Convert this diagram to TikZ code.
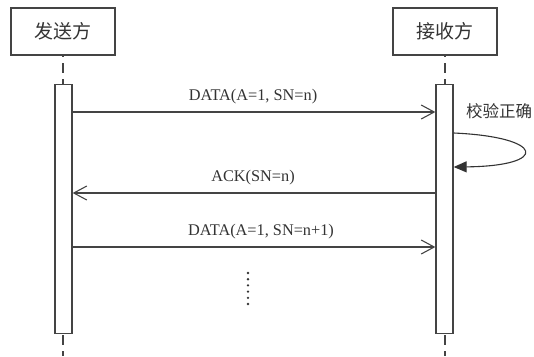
\documentclass[tikz,border=0pt]{standalone}
\usepackage{fontspec}
\setmainfont{Liberation Serif}
\newfontfamily\cjk{Noto Sans CJK SC}
\usetikzlibrary{arrows.meta}
\definecolor{ink}{HTML}{444444}
\definecolor{txt}{HTML}{333333}
\tikzset{
  actor/.style={draw=ink, line width=1.3pt, minimum width=104pt, minimum height=47pt,
    inner sep=0pt, font=\cjk\fontsize{19}{22}\selectfont, text=txt},
  bar/.style={draw=ink, line width=1.3pt, fill=white, minimum width=17pt, minimum height=249pt,
    inner sep=0pt, anchor=north},
  life/.style={draw=ink, line width=1.3pt, dash pattern=on 10pt off 6pt},
  msg/.style={draw=ink, line width=1.2pt, -{Straight Barb[length=13pt,width=14pt,line width=1.1pt]}},
  selfmsg/.style={draw=txt, line width=1.1pt, -{Triangle[length=13pt,width=11pt]}},
  lbl/.style={font=\fontsize{16.3}{19}\selectfont, text=txt, inner sep=0pt}
}
\begin{document}
\begin{tikzpicture}[x=1pt,y=-1pt]
\useasboundingbox (0,0) rectangle (534,356);

% participants
\node[actor] (snd) at (63,31.5) {发送方};
\node[actor] (rcv) at (445,31.5) {接收方};

% lifelines behind the activation bars
\coordinate (sndtop) at (63,55);
\coordinate (sndend) at (63,356);
\coordinate (rcvtop) at (445,55);
\coordinate (rcvend) at (445,356);
\draw[life, dash phase=8pt] (sndtop) -- (sndend);
\draw[life, dash phase=8pt] (rcvtop) -- (rcvend);

% activation bars
\node[bar] (sbar) at (63.5,83.5) {};
\node[bar] (rbar) at (444.5,84) {};

% message endpoints
\coordinate (m1a) at (sbar.east |- 0,112);
\coordinate (m1b) at (rbar.west |- 0,112);
\coordinate (m2a) at (rbar.west |- 0,193);
\coordinate (m2b) at (sbar.east |- 0,193);
\coordinate (m3a) at (sbar.east |- 0,247);
\coordinate (m3b) at (rbar.west |- 0,247);
\coordinate (ls) at (rbar.east |- 0,133);
\coordinate (le) at (rbar.east |- 0,167);

% messages
\draw[msg] (m1a) -- (m1b);
\node[lbl] (t1) at (253,97) {DATA(A=1, SN=n)};

\draw[selfmsg] (ls) .. controls (545,137) and (550,166) .. (le);
\node[font=\cjk\fontsize{16.5}{19}\selectfont, text=txt, inner sep=0pt] (t2) at (499,111) {校验正确};

\draw[msg] (m2a) -- (m2b);
\node[lbl] (t3) at (253,178) {ACK(SN=n)};

\draw[msg] (m3a) -- (m3b);
\node[lbl] (t4) at (261,232) {DATA(A=1, SN=n+1)};

% continuation dots
\foreach \k in {0,...,5}
  \fill[txt] (248,{273+6.2*\k}) circle (1.3pt);
\coordinate (dots) at (248,288);
\end{tikzpicture}
\end{document}
